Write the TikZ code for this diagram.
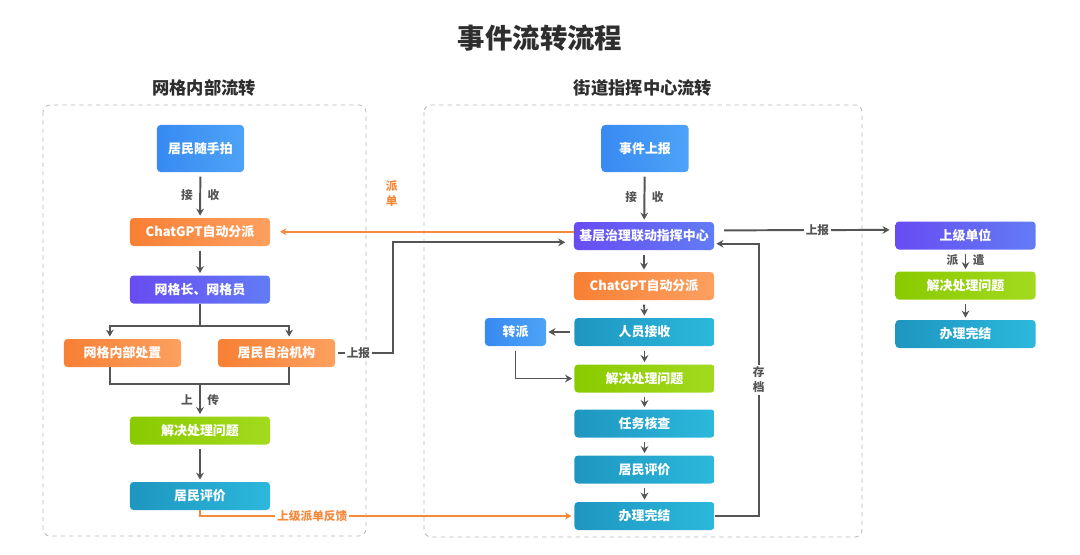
\documentclass[tikz,border=0pt]{standalone}
\usepackage{fontspec}
\setmainfont{Noto Sans CJK SC}
\usetikzlibrary{arrows.meta, positioning, calc}
\definecolor{BLa}{RGB}{56,138,242}
\definecolor{BLb}{RGB}{77,163,246}
\definecolor{PUa}{RGB}{104,76,242}
\definecolor{PUb}{RGB}{98,124,245}
\definecolor{ORa}{RGB}{247,128,52}
\definecolor{ORb}{RGB}{253,160,96}
\definecolor{GRa}{RGB}{138,202,0}
\definecolor{GRb}{RGB}{163,218,30}
\definecolor{TEa}{RGB}{30,150,192}
\definecolor{TEb}{RGB}{44,184,220}
\definecolor{DG}{RGB}{85,85,85}
\definecolor{LO}{RGB}{245,137,60}
\definecolor{FR}{RGB}{185,185,185}
\definecolor{TT}{RGB}{46,46,46}

\begin{document}
\begin{tikzpicture}[x=0.025cm, y=-0.025cm,
  stage/.style={rounded corners=2.5pt, left color=#1a, right color=#1b, text=white,
                minimum width=3.5cm, minimum height=0.7cm, inner sep=0pt,
                font=\fontsize{9.2}{11}\selectfont\bfseries},
  arr/.style={-{Stealth[length=5pt,width=5.5pt]}, line width=1.4pt, draw=DG, shorten >=1.5pt},
  vgap/.style={shorten <=3pt},
  link/.style={line width=1.4pt, draw=DG},
  oarr/.style={-{Stealth[length=4.5pt,width=5pt]}, line width=1.1pt, draw=LO},
  lbl/.style={font=\fontsize{8.3}{10.5}\selectfont\bfseries, text=DG, fill=white,
              inner sep=1.5pt, align=center},
  head/.style={font=\fontsize{12.3}{14}\selectfont\bfseries, text=TT},
  frame/.style={draw=FR, dashed, line width=0.6pt, rounded corners=5pt}
]
\useasboundingbox (0,0) rectangle (1080,554);

% Titles
\node[font=\fontsize{19.5}{22}\selectfont\bfseries, text=TT] (title) at (540,38) {事件流转流程};
\node[head] (lhead) at (204,88) {网格内部流转};
\node[head] (mhead) at (643,88) {街道指挥中心流转};

% Frames
\draw[frame] (43,105) rectangle (366,536);
\draw[frame] (424,105) rectangle (862,537);

% Left column
\node[stage=BL, minimum width=2.175cm, minimum height=1.175cm] (pai) at (200.5,148.5) {居民随手拍};
\node[stage=OR] (lchat)  at (200,232)   {ChatGPT自动分派};
\node[stage=PU] (lgrid)  at (200,289.5) {网格长、网格员};
\node[stage=OR, minimum width=2.925cm] (linner) at (122.5,353) {网格内部处置};
\node[stage=OR, minimum width=2.925cm] (lself)  at (276.5,353) {居民自治机构};
\node[stage=GR] (lsolve) at (200,430.5) {解决处理问题};
\node[stage=TE] (leval)  at (200,496)   {居民评价};

% Middle column
\node[stage=BL, minimum width=2.175cm, minimum height=1.175cm] (mevent) at (645,148.5) {事件上报};
\node[stage=PU] (mcenter) at (644,236)   {基层治理联动指挥中心};
\node[stage=OR] (mchat)   at (644,286)   {ChatGPT自动分派};
\node[stage=TE] (mrecv)   at (644.5,332) {人员接收};
\node[stage=BL, minimum width=1.525cm] (mtrans) at (515.5,332) {转派};
\node[stage=GR] (msolve)  at (644.5,378.5) {解决处理问题};
\node[stage=TE] (mcheck)  at (644.5,423.5) {任务核查};
\node[stage=TE] (meval)   at (644.5,469.5) {居民评价};
\node[stage=TE] (mdone)   at (644.5,516)   {办理完结};

% Right column
\node[stage=PU] (rup)    at (965.5,235.5) {上级单位};
\node[stage=GR] (rsolve) at (965.5,285.5) {解决处理问题};
\node[stage=TE] (rdone)  at (965.5,334)   {办理完结};

% Left arrows
\draw[arr, vgap] (pai) -- node[lbl, left=3pt, fill=none]{接} node[lbl, right=3pt, fill=none]{收} (lchat);
\draw[arr, vgap] (lchat) -- (lgrid);
\coordinate (lsplit) at (200,326);
\draw[link] (lgrid.south) -- (lsplit);
\draw[arr] (lsplit) -| ([xshift=-9pt]linner.north);
\draw[arr] (lsplit) -| ([xshift=9pt]lself.north);
\coordinate (ljoin) at (200,384);
\draw[link] ([xshift=-9pt]linner.south) -- ++(0,17) -| ([xshift=9pt]lself.south);
\draw[arr] (ljoin) -- node[lbl, left=3pt, fill=none]{上} node[lbl, right=3pt, fill=none]{传} (lsolve);
\draw[arr, vgap] (lsolve) -- (leval);

% Middle arrows
\draw[arr, vgap] (mevent) -- node[lbl, left=3pt, fill=none]{接} node[lbl, right=3pt, fill=none]{收} (mcenter);
\draw[arr, vgap] (mcenter) -- (mchat);
\draw[arr, vgap] (mchat) -- (mrecv);
\draw[arr, vgap] (mrecv) -- (mtrans);
\draw[arr, vgap] (mtrans.south) |- (msolve.west);
\draw[arr, vgap] (mrecv) -- (msolve);
\draw[arr, vgap] (msolve) -- (mcheck);
\draw[arr, vgap] (mcheck) -- (meval);
\draw[arr, vgap] (meval) -- (mdone);

% Cross links
\draw[oarr, shorten >=7pt] ([yshift=3pt]mcenter.west) -- node[pos=0.6, above=14pt, text=LO, font=\fontsize{8.3}{10.5}\selectfont\bfseries, align=center]{派\\单} ([yshift=3pt]mcenter.west -| lchat.east);
\draw[arr, shorten <=2pt, shorten >=6pt] (lself.east) -- node[lbl, pos=0.4]{上报} ++(58,0) |- ([yshift=-4.5pt]mcenter.west);
\draw[oarr, shorten >=2pt] (leval.south) |- node[lbl, pos=0.65, text=LO]{上级派单反馈} (mdone.west);
\draw[arr] (mdone.east) -- ++(44,0) |- node[lbl, pos=0.25]{存\\档} ([yshift=-5.5pt]mcenter.east);
\draw[arr, shorten <=7pt, shorten >=4pt] ([yshift=4pt]mcenter.east) -- node[lbl, pos=0.57]{上报} ([yshift=4pt]rup.west);

% Right arrows
\draw[arr, vgap] (rup) -- node[lbl, left=3pt, fill=none]{派} node[lbl, right=3pt, fill=none]{遣} (rsolve);
\draw[arr, vgap] (rsolve) -- (rdone);
\end{tikzpicture}
\end{document}
